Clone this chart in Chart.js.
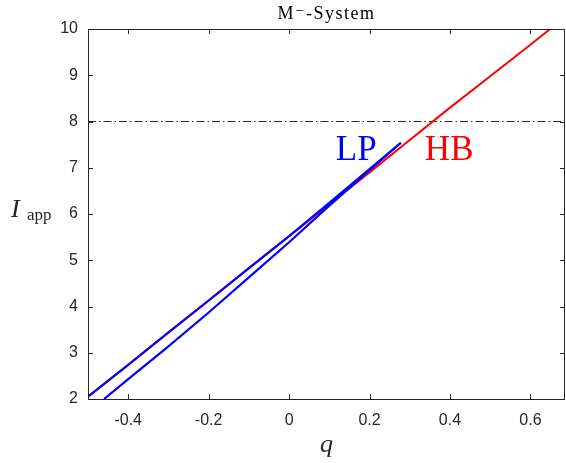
<!DOCTYPE html>
<html>
<head>
<meta charset="utf-8">
<script src="https://cdn.jsdelivr.net/npm/chart.js@4.4.1/dist/chart.umd.min.js"></script>
<style>
html,body{margin:0;padding:0;background:#fff;}
#wrap{width:566px;height:463px;position:relative;}
</style>
</head>
<body>
<div id="wrap"><canvas id="c" width="566" height="463"></canvas></div>
<script>
// ---- data ----
const lpUpperQ = [-0.5, -0.4, -0.3, -0.2, -0.1, 0, 0.1, 0.2, 0.278];
const lpUpperI = [2.05, 2.74, 3.44, 4.13, 4.83, 5.52, 6.24, 6.97, 7.54];
const lpLowerQ = [-0.46, -0.4, -0.3, -0.2, -0.1, 0, 0.1, 0.2, 0.278];
const lpLowerI = [2.0, 2.43, 3.14, 3.87, 4.63, 5.39, 6.18, 6.95, 7.54];
const hbQ = [-0.5, -0.4, -0.2, 0, 0.1, 0.2, 0.3, 0.4, 0.5, 0.6, 0.649];
const hbI = [2.05, 2.74, 4.13, 5.52, 6.21, 6.9, 7.6, 8.3, 8.98, 9.66, 10.0];
const thresholdQ = [-0.5, 0.686];
const thresholdI = [8, 8];
const xTicks = [-0.4, -0.2, 0, 0.2, 0.4, 0.6];
const xTickLabels = ['-0.4', '-0.2', '0', '0.2', '0.4', '0.6'];
const yTicks = [2, 3, 4, 5, 6, 7, 8, 9, 10];
const yTickLabels = ['2', '3', '4', '5', '6', '7', '8', '9', '10'];
const xRange = [-0.5, 0.686];
const yRange = [2, 10];
const titleText = 'M\u207B-System';
const lpLabel = {text: 'LP', q: 0.167, I: 7.17};
const hbLabel = {text: 'HB', q: 0.398, I: 7.17};

const pts = (xs, ys) => xs.map((x, i) => ({x: x, y: ys[i]}));
const AX = '#262626';

const decor = {
  id: 'decor',
  afterDatasetsDraw(chart) {
    const ctx = chart.ctx;
    const a = chart.chartArea;
    const xs = chart.scales.x, ys = chart.scales.y;
    ctx.save();
    ctx.strokeStyle = AX;
    ctx.lineWidth = 1;
    ctx.strokeRect(Math.round(a.left) + 0.5, Math.round(a.top) + 0.5,
                   Math.round(a.right - a.left) - 1, Math.round(a.bottom - a.top));
    const tl = 5;
    ctx.beginPath();
    xTicks.forEach(v => {
      const px = Math.round(xs.getPixelForValue(v)) + 0.5;
      ctx.moveTo(px, a.bottom); ctx.lineTo(px, a.bottom - tl);
      ctx.moveTo(px, a.top); ctx.lineTo(px, a.top + tl);
    });
    yTicks.forEach(v => {
      const py = Math.round(ys.getPixelForValue(v)) + 0.5;
      ctx.moveTo(a.left, py); ctx.lineTo(a.left + tl, py);
      ctx.moveTo(a.right, py); ctx.lineTo(a.right - tl, py);
    });
    ctx.stroke();

    ctx.textAlign = 'center';
    ctx.textBaseline = 'alphabetic';
    ctx.font = '35px "Liberation Serif", "DejaVu Serif", serif';
    ctx.fillStyle = '#0000ff';
    ctx.fillText(lpLabel.text, xs.getPixelForValue(lpLabel.q), ys.getPixelForValue(lpLabel.I));
    ctx.fillStyle = '#ff0000';
    ctx.fillText(hbLabel.text, xs.getPixelForValue(hbLabel.q), ys.getPixelForValue(hbLabel.I));

    ctx.fillStyle = '#000';
    ctx.font = '18px "Liberation Serif", "DejaVu Serif", serif';
    try { ctx.letterSpacing = '1.5px'; } catch (e) {}
    ctx.fillText(titleText, (a.left + a.right) / 2, 19);
    try { ctx.letterSpacing = '0px'; } catch (e) {}

    ctx.font = 'italic 26px "Liberation Serif", "DejaVu Serif", serif';
    ctx.fillStyle = AX;
    ctx.fillText('q', (a.left + a.right) / 2, 452);

    ctx.textAlign = 'left';
    ctx.font = 'italic 26px "Liberation Serif", "DejaVu Serif", serif';
    ctx.fillText('I', 11, 217);
    ctx.font = '17px "Liberation Serif", "DejaVu Serif", serif';
    ctx.fillText('app', 27, 220);
    ctx.restore();
  }
};

new Chart(document.getElementById('c'), {
  type: 'scatter',
  data: {
    datasets: [
      {data: pts(lpUpperQ, lpUpperI), borderColor: '#0000ff', borderWidth: 2.2, showLine: true, pointRadius: 0, tension: 0},
      {data: pts(lpLowerQ, lpLowerI), borderColor: '#0000ff', borderWidth: 2.2, showLine: true, pointRadius: 0, tension: 0},
      {data: pts(hbQ, hbI), borderColor: '#ff0000', borderWidth: 2, showLine: true, pointRadius: 0, tension: 0},
      {data: pts(thresholdQ, thresholdI), borderColor: '#262626', borderWidth: 1, borderDash: [8, 3, 1.5, 3], showLine: true, pointRadius: 0}
    ]
  },
  options: {
    responsive: false,
    animation: false,
    events: [],
    layout: {padding: {top: 29, right: 1, left: 0, bottom: 0}},
    plugins: {legend: {display: false}, tooltip: {enabled: false}, title: {display: false}},
    scales: {
      x: {
        type: 'linear', min: xRange[0], max: xRange[1],
        afterBuildTicks: s => { s.ticks = xTicks.map(v => ({value: v})); },
        afterFit: s => { s.height = 64; },
        grid: {display: false, drawTicks: false},
        border: {display: false},
        ticks: {
          padding: 12, color: AX, maxRotation: 0, autoSkip: false,
          font: {family: '"Liberation Sans", Arial, sans-serif', size: 16},
          callback: (v) => { const i = xTicks.findIndex(t => Math.abs(t - v) < 1e-9); return i >= 0 ? xTickLabels[i] : ''; }
        }
      },
      y: {
        type: 'linear', min: yRange[0], max: yRange[1],
        afterBuildTicks: s => { s.ticks = yTicks.map(v => ({value: v})); },
        afterFit: s => { s.width = 88; },
        grid: {display: false, drawTicks: false},
        border: {display: false},
        ticks: {
          padding: 10, color: AX, autoSkip: false,
          font: {family: '"Liberation Sans", Arial, sans-serif', size: 16},
          callback: (v) => { const i = yTicks.findIndex(t => Math.abs(t - v) < 1e-9); return i >= 0 ? yTickLabels[i] : ''; }
        }
      }
    }
  },
  plugins: [decor]
});
</script>
</body>
</html>
